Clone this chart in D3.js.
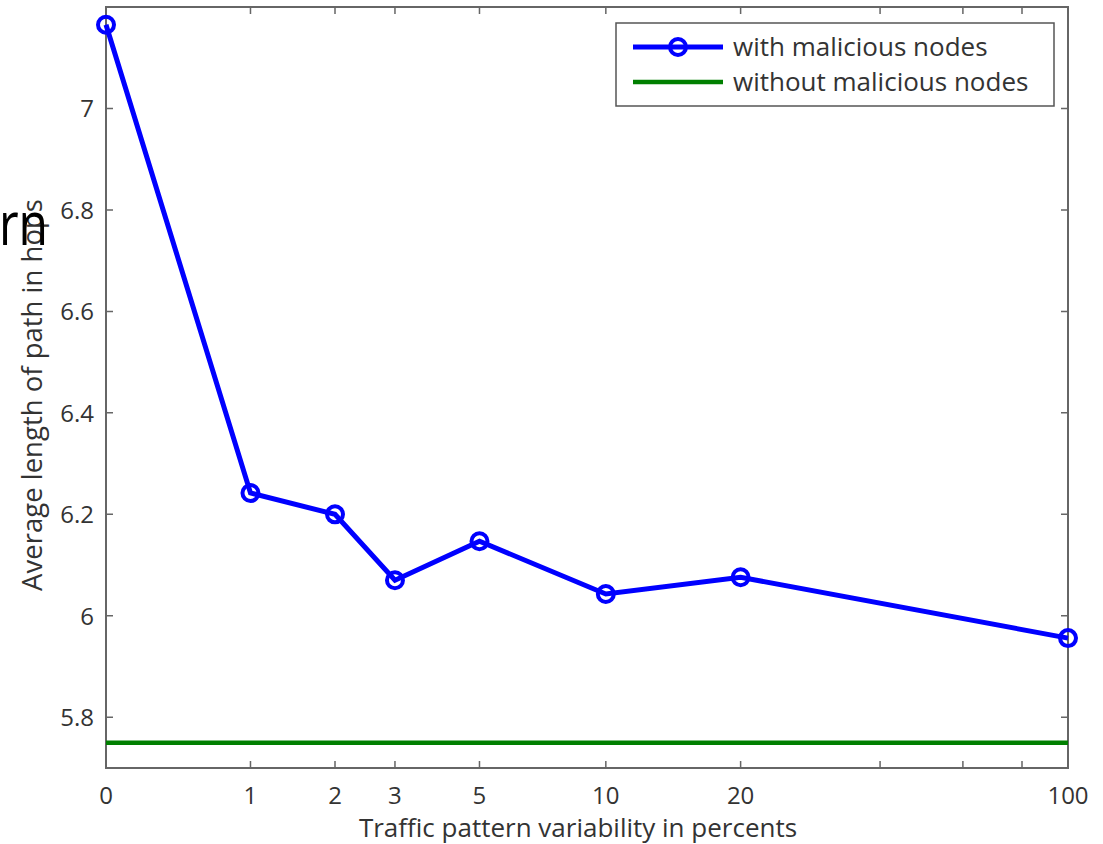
<!DOCTYPE html>
<html>
<head>
<meta charset="utf-8">
<script src="https://cdn.jsdelivr.net/npm/d3@7"></script>
<style>
body { margin: 0; background: #fff; }
text { font-family: "Open Sans", sans-serif; fill: #333; }
</style>
</head>
<body>
<svg id="chart" width="1103" height="844"></svg>
<script>
// data
var variability = [0, 1, 2, 3, 5, 10, 20, 100];
var withMalicious = [7.165, 6.242, 6.2, 6.07, 6.147, 6.043, 6.076, 5.956];
var withoutMalicious = 5.75;
var xTicks = [0, 1, 2, 3, 5, 10, 20, 100];
var xMinorTicks = [40, 60, 80];
var yTicks = [5.8, 6, 6.2, 6.4, 6.6, 6.8, 7];
var seriesNames = ["with malicious nodes", "without malicious nodes"];

var svg = d3.select("#chart");
var mLeft = 106, mRight = 1068, mTop = 7, mBottom = 768;

// x axis looks like log(1+x), symlog with constant 1 does exactly that
var x = d3.scaleSymlog().constant(1).domain([0, 100]).range([mLeft, mRight]);
var y = d3.scaleLinear().domain([5.7, 7.2]).range([mBottom, mTop]);

var frame = svg.append("g");
frame.append("rect")
    .attr("x", mLeft).attr("y", mTop)
    .attr("width", mRight - mLeft).attr("height", mBottom - mTop)
    .attr("fill", "none").attr("stroke", "#666").attr("stroke-width", 2);

// ticks point inward, on all four sides
var tl = 7;
var allX = xTicks.concat(xMinorTicks);
frame.selectAll(".xt").data(allX).enter().append("path")
    .attr("d", d => "M" + x(d) + "," + mBottom + "v" + (-tl) + "M" + x(d) + "," + mTop + "v" + tl)
    .attr("stroke", "#666").attr("stroke-width", 1.5);
frame.selectAll(".yt").data(yTicks).enter().append("path")
    .attr("d", d => "M" + mLeft + "," + y(d) + "h" + tl + "M" + mRight + "," + y(d) + "h" + (-tl))
    .attr("stroke", "#666").attr("stroke-width", 1.5);

svg.append("g").selectAll("text").data(xTicks).enter().append("text")
    .attr("x", d => x(d)).attr("y", 804)
    .attr("text-anchor", "middle").style("font-size", "24px")
    .text(d => d);
svg.append("g").selectAll("text").data(yTicks).enter().append("text")
    .attr("x", mLeft - 12).attr("y", d => y(d) + 9)
    .attr("text-anchor", "end").style("font-size", "24px")
    .text(d => d);

svg.append("text")
    .attr("x", 578).attr("y", 837)
    .attr("text-anchor", "middle").style("font-size", "26px")
    .text("Traffic pattern variability in percents");
svg.append("text")
    .attr("transform", "translate(42,395) rotate(-90)")
    .attr("text-anchor", "middle").style("font-size", "27.5px")
    .text("Average length of path in hops");

// green baseline
svg.append("line")
    .attr("x1", x(0)).attr("x2", x(100))
    .attr("y1", y(withoutMalicious)).attr("y2", y(withoutMalicious))
    .attr("stroke", "#007f00").attr("stroke-width", 4.5);

var line = d3.line().x((d, i) => x(variability[i])).y(d => y(d));
svg.append("path").datum(withMalicious)
    .attr("d", line)
    .attr("fill", "none").attr("stroke", "#0000ff").attr("stroke-width", 5);
svg.append("g").selectAll("circle").data(withMalicious).enter().append("circle")
    .attr("cx", (d, i) => x(variability[i])).attr("cy", d => y(d))
    .attr("r", 8).attr("fill", "none").attr("stroke", "#0000ff").attr("stroke-width", 4);

// legend
var lg = svg.append("g");
lg.append("rect").attr("x", 616).attr("y", 23).attr("width", 438).attr("height", 83)
    .attr("fill", "#fff").attr("stroke", "#555").attr("stroke-width", 1.5);
lg.append("line").attr("x1", 633).attr("x2", 723).attr("y1", 47).attr("y2", 47)
    .attr("stroke", "#0000ff").attr("stroke-width", 5);
lg.append("circle").attr("cx", 678).attr("cy", 47).attr("r", 8)
    .attr("fill", "none").attr("stroke", "#0000ff").attr("stroke-width", 4);
lg.append("line").attr("x1", 633).attr("x2", 723).attr("y1", 82).attr("y2", 82)
    .attr("stroke", "#007f00").attr("stroke-width", 4.5);
lg.selectAll("text").data(seriesNames).enter().append("text")
    .attr("x", 733).attr("y", (d, i) => 56 + i * 35)
    .style("font-size", "26px").text(d => d);

// clipped title fragment overlapping the y label
svg.append("text").attr("transform", "translate(-1,245) scale(0.8,1)")
    .style("font-size", "60px").style("fill", "#000").text("rn");
</script>
</body>
</html>
